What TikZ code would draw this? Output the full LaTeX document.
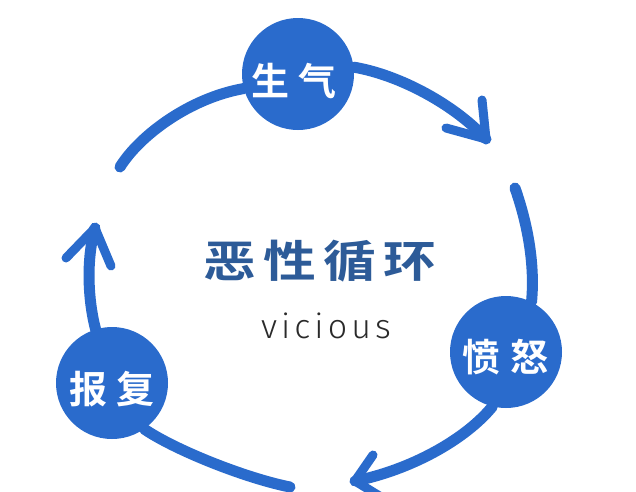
\documentclass[tikz,border=0pt]{standalone}
\usepackage{fontspec}
\usepackage{graphicx}
\newfontfamily\cjk{Noto Sans CJK SC}[BoldFont={Noto Sans CJK SC Bold}]
\newfontfamily\vic{Fira Sans}[UprightFont={* Light},LetterSpace=12]
\definecolor{cblue}{HTML}{2A6BCC}
\definecolor{tblue}{HTML}{2D5B98}
\definecolor{vgray}{HTML}{2A2A2A}
\pgfdeclarelayer{bg}
\pgfsetlayers{bg,main}
\begin{document}
\begin{tikzpicture}[x=1pt,y=-1pt,
  bub/.style={circle,fill=cblue,inner sep=0pt,minimum size=112pt},
  bubtxt/.style={text=white,font=\cjk\bfseries\fontsize{38pt}{40pt}\selectfont,inner sep=0pt},
  arc/.style={draw=cblue,line width=11pt,line cap=round,line join=round},
  barb/.style={draw=cblue,line width=9pt,line cap=round,line join=round}]
\useasboundingbox (0,0) rectangle (636,491);
% circles
\node[bub] (sq) at (298,74) {};
\node[bub] (fn) at (506,352) {};
\node[bub] (bf) at (112,383) {};
\node[bubtxt] (sqt) at (294,81) {生\hspace{10pt}气};
\node[bubtxt] (fnt) at (505,357) {愤\hspace{10pt}怒};
\node[bubtxt] (bft) at (112,389) {报\hspace{10pt}复};
% centre text
\node[text=tblue,font=\cjk\bfseries\fontsize{44pt}{46pt}\selectfont,inner sep=0pt] (title) at (320,261)
  {\scalebox{1.2}[1]{恶\hspace{6pt}性\hspace{6pt}循\hspace{6pt}环}};
\node[text=vgray,font=\vic\fontsize{34pt}{36pt}\selectfont,inner sep=0pt] (sub) at (326,326) {vicious};
% free ends
\coordinate (a1) at (120,167);
\coordinate (t1) at (486,139);
\coordinate (b1a) at (482,100);
\coordinate (b1b) at (446,128);
\coordinate (a3) at (515,188);
\coordinate (t2) at (355,481);
\coordinate (b2a) at (373,455);
\coordinate (b2b) at (386,500);
\coordinate (a5) at (290,487);
\coordinate (t3) at (95,228);
\coordinate (b3a) at (66,258);
\coordinate (b3b) at (111,266);
\begin{pgfonlayer}{bg}
\fill[white] (0,0) rectangle (636,491);
\draw[arc] (a1) .. controls (140,135) and (190,98) .. (sq.195);
\draw[arc] (sq.7) .. controls (400,75) and (455,105) .. (t1);
\draw[barb] (b1a) -- (t1) -- (b1b);
\draw[arc] (a3) .. controls (528,225) and (535,265) .. (fn.63);
\draw[arc] (fn.256) .. controls (465,440) and (410,470) .. (t2);
\draw[barb] (b2a) -- (t2) -- (b2b);
\draw[arc] (bf.305) .. controls (175,450) and (245,478) .. (a5);
\draw[arc] (bf.107) .. controls (88,300) and (86,260) .. (t3);
\draw[barb] (b3a) -- (t3) -- (b3b);
\end{pgfonlayer}
\end{tikzpicture}
\end{document}
